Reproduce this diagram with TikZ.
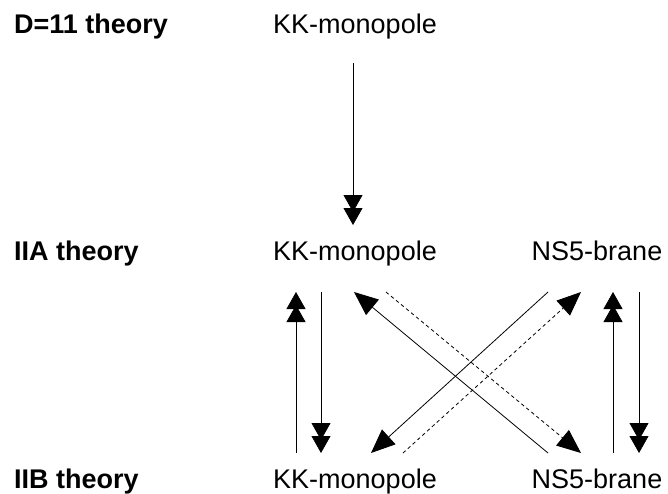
\documentclass[tikz,border=0pt]{standalone}
\usepackage{fontspec}
\setmainfont{Liberation Sans}
\usetikzlibrary{arrows.meta}
\begin{document}
\begin{tikzpicture}[x=1pt,y=-1pt,
  lbl/.style={anchor=base west,inner sep=0pt,font=\fontsize{27}{32}\selectfont\bfseries},
  txt/.style={anchor=base,inner sep=0pt,font=\fontsize{27}{32}\selectfont},
  conn/.style={line width=0.8pt},
  dbl/.style={conn,-{Triangle[length=17pt,width=19pt,sep=-4pt]Triangle[length=17pt,width=19pt]}},
  sgl/.style={conn,-{Triangle[length=24pt,width=20pt]}},
  dsh/.style={sgl,dash pattern=on 3.5pt off 3pt}]
\useasboundingbox (0,0) rectangle (668,493);
% row labels
\node[lbl] (dlab) at (14,33) {D=11 theory};
\node[lbl] (alab) at (14,260) {IIA theory};
\node[lbl] (blab) at (14,488) {IIB theory};
% texts
\node[txt] (kk11) at (355,33) {KK-monopole};
\node[txt] (kkA) at (355,260) {KK-monopole};
\node[txt] (nsA) at (597,260) {NS5-brane};
\node[txt] (kkB) at (355,488) {KK-monopole};
\node[txt] (nsB) at (597,488) {NS5-brane};
% endpoints
\coordinate (t1) at (353,63);
\coordinate (t2) at (353,225);
\coordinate (lu1) at (296,453);
\coordinate (lu2) at (296,292);
\coordinate (ld1) at (321,292);
\coordinate (ld2) at (321,453);
\coordinate (ru1) at (613,453);
\coordinate (ru2) at (613,292);
\coordinate (rd1) at (639,292);
\coordinate (rd2) at (639,453);
\coordinate (nw1) at (548,453);
\coordinate (nw2) at (354,292);
\coordinate (se1) at (386,292);
\coordinate (se2) at (581,453);
\coordinate (sw1) at (548,292);
\coordinate (sw2) at (371,453);
\coordinate (ne1) at (403,453);
\coordinate (ne2) at (581,292);
% connectors
\draw[dbl] (t1) -- (t2);
\draw[dbl] (lu1) -- (lu2);
\draw[dbl] (ld1) -- (ld2);
\draw[dbl] (ru1) -- (ru2);
\draw[dbl] (rd1) -- (rd2);
\draw[sgl] (nw1) -- (nw2);
\draw[dsh] (se1) -- (se2);
\draw[sgl] (sw1) -- (sw2);
\draw[dsh] (ne1) -- (ne2);
\end{tikzpicture}
\end{document}
